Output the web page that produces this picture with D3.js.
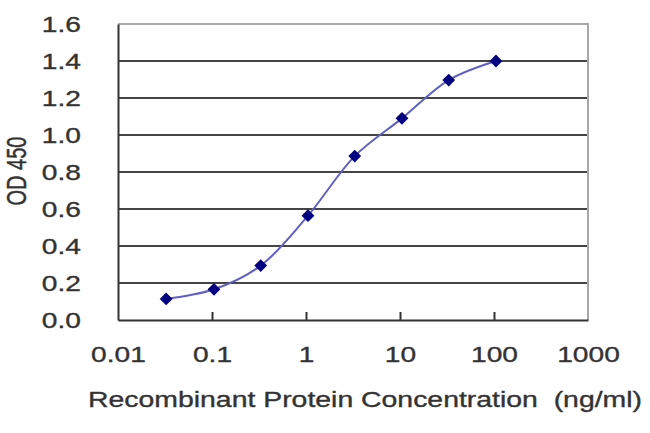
<!DOCTYPE html>
<html><head><meta charset="utf-8">
<script src="https://cdn.jsdelivr.net/npm/d3@7"></script>
<style>body{margin:0;background:#fff}svg{display:block}</style>
</head><body><svg id="c" width="650" height="433"></svg>
<script>
const concentrations = [0.0325, 0.105, 0.33, 1.05, 3.3, 10.5, 33, 105];
const odValues = [0.114, 0.166, 0.294, 0.564, 0.886, 1.090, 1.297, 1.400];
const xTicks = [0.01, 0.1, 1, 10, 100, 1000];
const xTickLabels = ["0.01", "0.1", "1", "10", "100", "1000"];
const yTicks = [0, 0.2, 0.4, 0.6, 0.8, 1.0, 1.2, 1.4, 1.6];
const yTickLabels = ["0.0", "0.2", "0.4", "0.6", "0.8", "1.0", "1.2", "1.4", "1.6"];
const xTitle = "Recombinant Protein Concentration  (ng/ml)";
const yTitle = "OD 450";

const svg = d3.select("#c");
const L = 118, R = 588, T = 24, B = 320;
const SX = 1.28;
const FS = 22;
const font = "'Liberation Sans', Arial, sans-serif";
const textColor = "#333";
const x = d3.scaleLog().domain([0.01, 1000]).range([L, R]);
const y = d3.scaleLinear().domain([0, 1.6]).range([B, T]);

svg.append("rect").attr("width", 650).attr("height", 433).attr("fill", "#fff");

function styleText(sel, size) {
  sel.attr("font-family", font).attr("font-size", size).attr("fill", textColor)
    .attr("stroke", textColor).attr("stroke-width", 0.35);
}

// gridlines
svg.append("g").selectAll("line").data(yTicks.filter(v => v > 0 && v < 1.6)).join("line")
  .attr("x1", L).attr("x2", R).attr("y1", d => y(d)).attr("y2", d => y(d))
  .attr("stroke", "#454545").attr("stroke-width", 2);

// top and right border (light)
svg.append("path")
  .attr("d", `M${L},${y(1.6)}H${R}V${B}`)
  .attr("fill", "none").attr("stroke", "#a8a8a8").attr("stroke-width", 2);

// y axis
const yAxis = d3.axisLeft(y).tickValues(yTicks).tickFormat((d, i) => yTickLabels[i]).tickSize(0).tickPadding(0);
const gy = svg.append("g").attr("transform", `translate(${L},0)`).call(yAxis);
gy.select(".domain").attr("stroke", "#333").attr("stroke-width", 2);
gy.selectAll("text")
  .attr("x", 0).attr("dy", "0.36em")
  .attr("transform", `translate(-37,0) scale(${SX},1)`)
  .call(styleText, FS);

// x axis
const xAxis = d3.axisBottom(x).tickValues(xTicks).tickFormat((d, i) => xTickLabels[i]).tickSizeInner(-8).tickSizeOuter(0).tickPadding(0);
const gx = svg.append("g").attr("transform", `translate(0,${B})`).call(xAxis);
gx.select(".domain").attr("stroke", "#333").attr("stroke-width", 2);
gx.selectAll(".tick line").attr("stroke", "#333").attr("stroke-width", 2)
  .attr("opacity", (d, i) => (i === 0 || i === xTicks.length - 1) ? 0 : 1);
gx.selectAll("text")
  .attr("y", 0).attr("dy", 0)
  .attr("transform", `translate(0,42) scale(${SX},1)`)
  .call(styleText, FS);

// curve
const line = d3.line().x((d, i) => x(concentrations[i])).y(d => y(d)).curve(d3.curveCatmullRom.alpha(0.5));
svg.append("path").datum(odValues).attr("d", line)
  .attr("fill", "none").attr("stroke", "#5f5fc6").attr("stroke-width", 2);

// markers
svg.append("g").selectAll("path").data(odValues).join("path")
  .attr("d", d3.symbol().type(d3.symbolSquare).size(82))
  .attr("transform", (d, i) => `translate(${x(concentrations[i])},${y(d)}) rotate(45)`)
  .attr("fill", "#000080");

// x title
svg.append("text")
  .attr("x", 88).attr("y", 407)
  .attr("textLength", 554).attr("lengthAdjust", "spacingAndGlyphs")
  .style("white-space", "pre")
  .text(xTitle)
  .call(styleText, FS);

// y title
svg.append("text")
  .attr("transform", `translate(16,171) scale(1.35,1) rotate(-90)`)
  .attr("text-anchor", "middle").attr("dy", "0.36em")
  .text(yTitle)
  .call(styleText, 20);
</script>
</body></html>
